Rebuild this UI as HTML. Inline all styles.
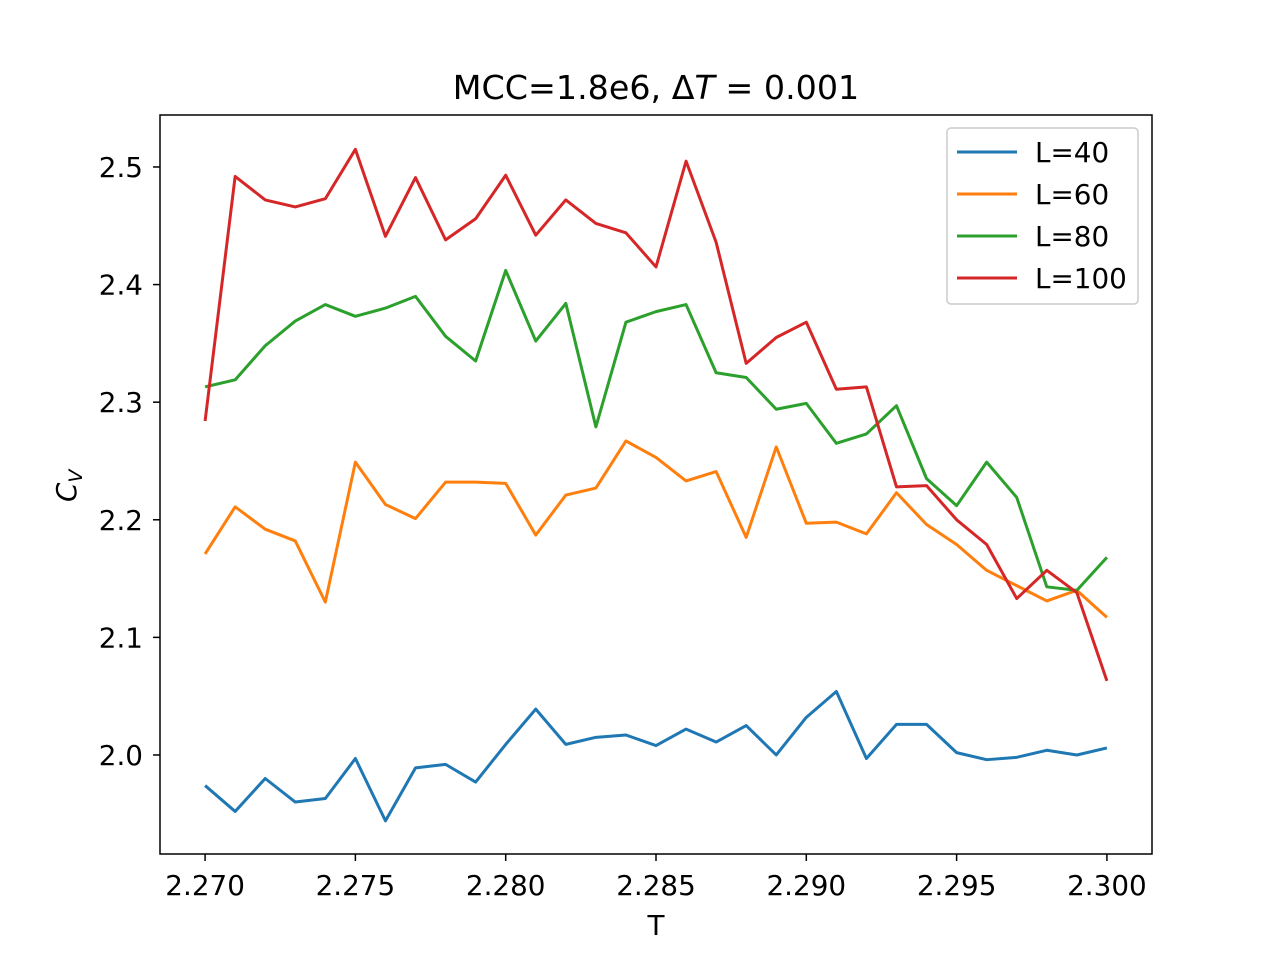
<!DOCTYPE html>
<html><head><meta charset="utf-8"><style>body{margin:0;background:#fff}svg{display:block}text{font-family:"DejaVu Sans","Liberation Sans",sans-serif;fill:#000}</style></head>
<body>
<svg id="chart" width="1280" height="960"></svg>
<script>
const temps = [];
for (let i = 0; i <= 30; i++) temps.push(2.270 + i * 0.001);
const seriesNames = ["L=40","L=60","L=80","L=100"];
const colors = ["#1f77b4","#ff7f0e","#2ca02c","#d62728"];
const cvL40 = [1.974,1.952,1.980,1.960,1.963,1.997,1.944,1.989,1.992,1.977,2.009,2.039,2.009,2.015,2.017,2.008,2.022,2.011,2.025,2.000,2.032,2.054,1.997,2.026,2.026,2.002,1.996,1.998,2.004,2.000,2.006];
const cvL60 = [2.171,2.211,2.192,2.182,2.130,2.249,2.213,2.201,2.232,2.232,2.231,2.187,2.221,2.227,2.267,2.253,2.233,2.241,2.185,2.262,2.197,2.198,2.188,2.223,2.196,2.179,2.157,2.144,2.131,2.140,2.117];
const cvL80 = [2.313,2.319,2.348,2.369,2.383,2.373,2.380,2.390,2.356,2.335,2.412,2.352,2.384,2.279,2.368,2.377,2.383,2.325,2.321,2.294,2.299,2.265,2.273,2.297,2.235,2.212,2.249,2.219,2.143,2.140,2.168];
const cvL100 = [2.284,2.492,2.472,2.466,2.473,2.515,2.441,2.491,2.438,2.456,2.493,2.442,2.472,2.452,2.444,2.415,2.505,2.436,2.333,2.355,2.368,2.311,2.313,2.228,2.229,2.200,2.179,2.133,2.157,2.138,2.063];
const xTicks = [2.270,2.275,2.280,2.285,2.290,2.295,2.300];
const yTicks = [2.0,2.1,2.2,2.3,2.4,2.5];

const svg = document.getElementById('chart');
const NS = 'http://www.w3.org/2000/svg';
const L=160,R=1152,T=115,B=854;
const xMin=2.2685,xMax=2.3015,yMin=1.9158,yMax=2.5442;
const sx=v=>L+(v-xMin)/(xMax-xMin)*(R-L);
const sy=v=>B-(v-yMin)/(yMax-yMin)*(B-T);
function mk(tag, attrs, txt){const e=document.createElementNS(NS,tag);for(const k in attrs)e.setAttribute(k,attrs[k]);if(txt!==undefined)e.textContent=txt;svg.appendChild(e);return e;}

const all=[cvL40,cvL60,cvL80,cvL100];
all.forEach((s,si)=>{
  const p=mk('polyline',{points:s.map((v,i)=>sx(temps[i])+','+sy(v)).join(' '),fill:'none',stroke:colors[si],'stroke-width':3,'stroke-linejoin':'round'});
  
  
});
const frame=mk('rect',{x:L,y:T,width:R-L,height:B-T,fill:'none',stroke:'#000','stroke-width':1.5});


xTicks.forEach(v=>{
  const x=sx(v);
  const tk=mk('line',{x1:x,x2:x,y1:B,y2:B+7,stroke:'#000','stroke-width':1.5});
  
  
  const t=mk('text',{x:x,y:B+41,'text-anchor':'middle','font-size':27.8},v.toFixed(3));
  
  
});
yTicks.forEach(v=>{
  const y=sy(v);
  const tk=mk('line',{x1:L-7,x2:L,y1:y,y2:y,stroke:'#000','stroke-width':1.5});
  
  
  const t=mk('text',{x:L-17,y:y+10,'text-anchor':'end','font-size':27.8},v.toFixed(1));
  
  
});
const xt=mk('text',{x:656,y:935,'text-anchor':'middle','font-size':27.8},'T');


const yt=mk('text',{x:0,y:0,'font-size':27.8,'font-style':'italic',transform:'translate(76,502) rotate(-90)'});
yt.innerHTML='C<tspan font-size="19" dy="6">V</tspan>';


const tt=mk('text',{x:656,y:99,'text-anchor':'middle','font-size':33.3});
tt.innerHTML='MCC=1.8e6, Δ<tspan font-style="italic">T</tspan> = 0.001';


const lg=mk('rect',{x:947,y:128,width:191,height:176,rx:4,fill:'#fff','fill-opacity':0.8,stroke:'#ccc','stroke-width':1.5});


seriesNames.forEach((n,i)=>{
  const y=152+i*42;
  const ln=mk('line',{x1:957,x2:1017,y1:y,y2:y,stroke:colors[i],'stroke-width':3});
  
  
  const t=mk('text',{x:1035,y:y+10,'font-size':27.8},n);
  
  
});
</script>
</body></html>
